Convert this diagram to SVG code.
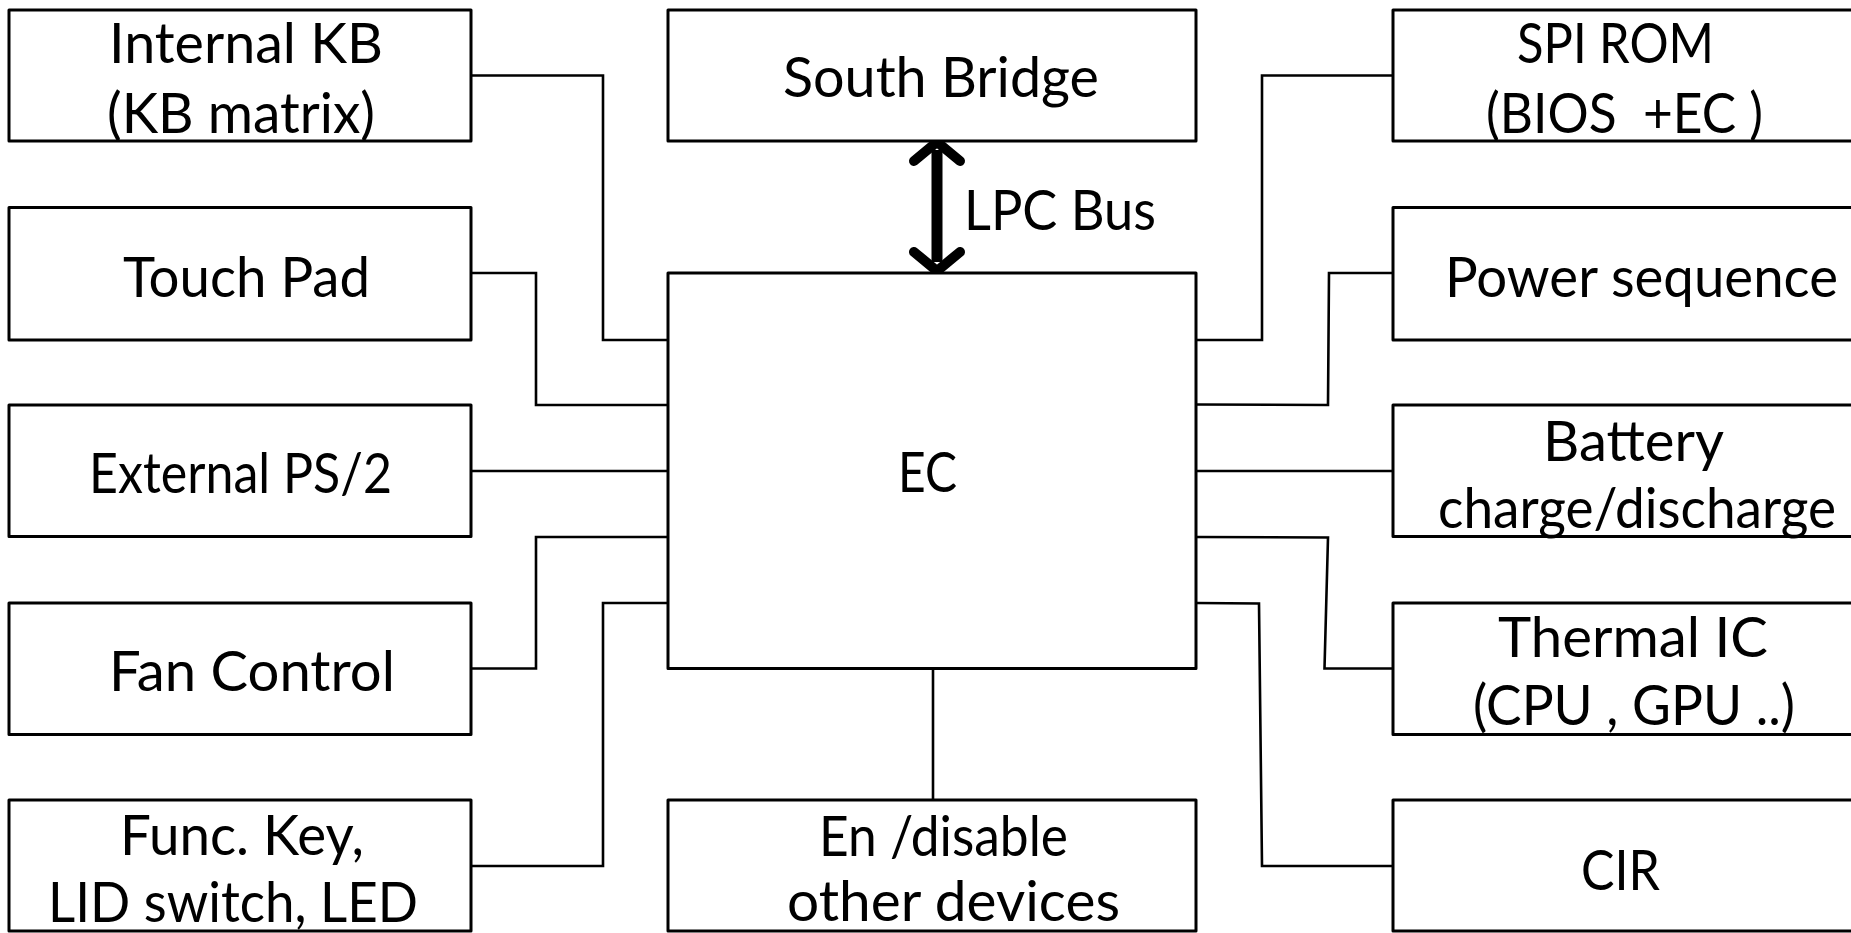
<svg xmlns="http://www.w3.org/2000/svg" width="1851" height="933" viewBox="0 0 1851 933">
<style>
.box{fill:#fff;stroke:#000;stroke-width:3;stroke-linejoin:round}
.t{font-family:Lato,"Open Sans","DejaVu Sans",sans-serif;font-size:56px;fill:#000}
.c{fill:none;stroke:#000;stroke-width:2.6;stroke-linejoin:miter}
</style>
<rect width="1851" height="933" fill="#fff"/>
<g id="connectors">
<polyline class="c" points="471,75.5 603,75.5 603,340 668,340"/>
<polyline class="c" points="471,273 536,273 536,405 668,405"/>
<polyline class="c" points="471,471 668,471"/>
<polyline class="c" points="471,668.5 536,668.5 536,537 668,537"/>
<polyline class="c" points="471,866 603,866 603,603 668,603"/>
<polyline class="c" points="1393,75.5 1262,75.5 1262,340 1196,340"/>
<polyline class="c" points="1393,273 1329,273 1328,405 1196,404.5"/>
<polyline class="c" points="1393,471 1196,471"/>
<polyline class="c" points="1393,668.5 1324.5,668.5 1328,537.5 1196,537"/>
<polyline class="c" points="1393,866 1262,866 1259,603.5 1196,603"/>
<line class="c" x1="933" y1="668.5" x2="933" y2="800"/>
<g id="lpc-arrow">
<line x1="937" y1="150" x2="937" y2="262" stroke="#000" stroke-width="11"/>
<polyline points="914,161 937,142 960,161" fill="none" stroke="#000" stroke-width="10" stroke-linecap="round" stroke-linejoin="miter"/>
<polyline points="914,252 937,271 960,252" fill="none" stroke="#000" stroke-width="10" stroke-linecap="round" stroke-linejoin="miter"/>
</g>
<text class="t" x="964" y="230" textLength="192" lengthAdjust="spacingAndGlyphs">LPC Bus</text>
</g>
<g id="internal-kb"><rect class="box" x="9" y="10" width="462" height="131"/>
<text class="t" x="109" y="62.7" textLength="274" lengthAdjust="spacingAndGlyphs">Internal KB</text>
<text class="t" x="107" y="132.7" textLength="268" lengthAdjust="spacingAndGlyphs">(KB matrix)</text></g>
<g id="touch-pad"><rect class="box" x="9" y="207.5" width="462" height="132.5"/>
<text class="t" x="123" y="296.7" textLength="247" lengthAdjust="spacingAndGlyphs">Touch Pad</text></g>
<g id="external-ps2"><rect class="box" x="9" y="405" width="462" height="131.5"/>
<text class="t" x="89" y="492.5" textLength="303" lengthAdjust="spacingAndGlyphs">External PS/2</text></g>
<g id="fan-control"><rect class="box" x="9" y="603" width="462" height="131.5"/>
<text class="t" x="109" y="690.6" textLength="286" lengthAdjust="spacingAndGlyphs">Fan Control</text></g>
<g id="func-key"><rect class="box" x="9" y="800" width="462" height="131"/>
<text class="t" x="120" y="855" textLength="244" lengthAdjust="spacingAndGlyphs">Func. Key,</text>
<text class="t" x="48" y="921.7" textLength="370" lengthAdjust="spacingAndGlyphs">LID switch, LED</text></g>
<g id="south-bridge"><rect class="box" x="668" y="10" width="528" height="131"/>
<text class="t" x="783" y="97.3" textLength="316" lengthAdjust="spacingAndGlyphs">South Bridge</text></g>
<g id="ec"><rect class="box" x="668" y="273" width="528" height="395.5"/>
<text class="t" x="898" y="492" textLength="59" lengthAdjust="spacingAndGlyphs">EC</text></g>
<g id="en-disable"><rect class="box" x="668" y="800" width="528" height="131"/>
<text class="t" x="819" y="855.5" textLength="249" lengthAdjust="spacingAndGlyphs">En /disable</text>
<text class="t" x="787" y="921" textLength="333" lengthAdjust="spacingAndGlyphs">other devices</text></g>
<g id="spi-rom"><rect class="box" x="1393" y="10" width="460" height="131"/>
<text class="t" x="1517" y="62.7" textLength="197" lengthAdjust="spacingAndGlyphs">SPI ROM</text>
<text class="t" x="1486" y="132.7" textLength="277" lengthAdjust="spacingAndGlyphs" xml:space="preserve">(BIOS  +EC )</text></g>
<g id="power-sequence"><rect class="box" x="1393" y="207.5" width="460" height="132.5"/>
<text class="t" x="1445" y="296.7" textLength="393" lengthAdjust="spacingAndGlyphs">Power sequence</text></g>
<g id="battery"><rect class="box" x="1393" y="405" width="460" height="131.5"/>
<text class="t" x="1543" y="461.2" textLength="181" lengthAdjust="spacingAndGlyphs">Battery</text>
<text class="t" x="1438" y="527.5" textLength="398" lengthAdjust="spacingAndGlyphs">charge/discharge</text></g>
<g id="thermal-ic"><rect class="box" x="1393" y="603" width="460" height="131.5"/>
<text class="t" x="1498" y="656.6" textLength="270" lengthAdjust="spacingAndGlyphs">Thermal IC</text>
<text class="t" x="1473" y="724.6" textLength="322" lengthAdjust="spacingAndGlyphs">(CPU , GPU ..)</text></g>
<g id="cir"><rect class="box" x="1393" y="800" width="460" height="131"/>
<text class="t" x="1581" y="889.5" textLength="79" lengthAdjust="spacingAndGlyphs">CIR</text></g>
</svg>
